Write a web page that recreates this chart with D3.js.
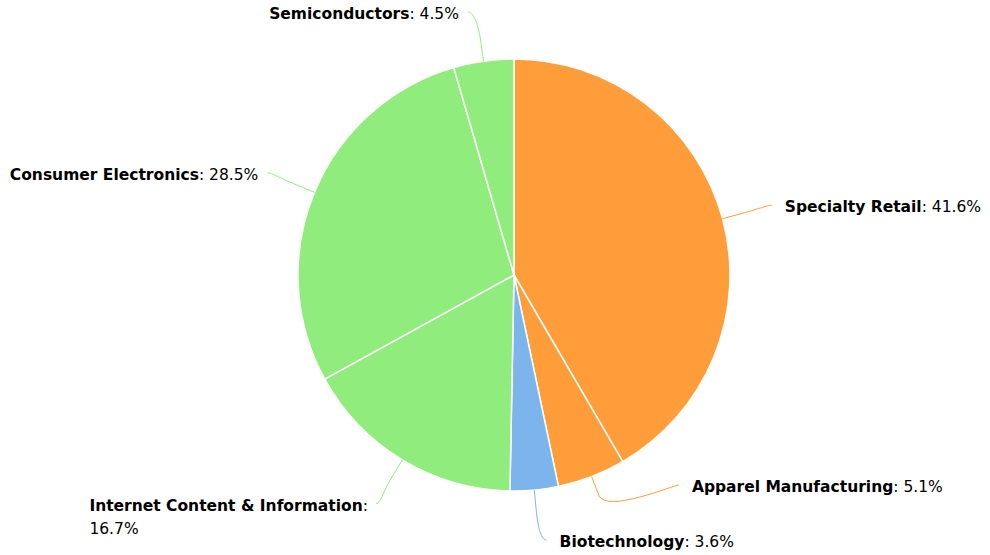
<!DOCTYPE html>
<html><head><meta charset="utf-8">
<script src="https://cdn.jsdelivr.net/npm/d3@7/dist/d3.min.js"></script>
<style>body{margin:0;background:#fff}svg{display:block}</style>
</head><body>
<svg id="c" width="990" height="555"></svg>
<script>
const categories = ["Specialty Retail","Apparel Manufacturing","Biotechnology","Internet Content & Information","Consumer Electronics","Semiconductors"];
const values = [41.6, 5.1, 3.6, 16.7, 28.5, 4.5];
const sliceColors = ["#FF9D3A","#FF9D3A","#7CB5EC","#90ED7D","#90ED7D","#90ED7D"];

const W = 990, H = 555;
const cx = 514, cy = 275, r = 216;
const labelDist = 51, breakDist = 20, minGap = 55, maxLabelW = 300;
const fontFam = "'DejaVu Sans', Verdana, sans-serif";
const fontSize = 15.5;

const svg = d3.select("#c");
const pie = d3.pie().sort(null).value(d => d)(values);
const arc = d3.arc().innerRadius(0).outerRadius(r);
const pt = (a, R) => [cx + R * Math.sin(a), cy - R * Math.cos(a)];

const g = svg.append("g").attr("transform", `translate(${cx},${cy})`);
g.selectAll("path").data(pie).join("path")
  .attr("d", arc)
  .attr("fill", (d, i) => sliceColors[i])
  .attr("stroke", "#fff").attr("stroke-width", 1.5).attr("stroke-linejoin", "round");

// label layout
const R = r + labelDist;
const labels = pie.map((d, i) => {
  const m = (d.startAngle + d.endAngle) / 2;
  return { i, m, side: Math.sin(m) >= 0 ? 1 : -1, y: cy - R * Math.cos(m) };
});
[1, -1].forEach(s => {
  const arr = labels.filter(l => l.side === s).sort((a, b) => a.y - b.y);
  arr.forEach(l => { l.y = Math.min(Math.max(l.y, 12), 540); });
  for (let k = arr.length - 2; k >= 0; k--) {
    if (arr[k + 1].y - arr[k].y < minGap) arr[k].y = arr[k + 1].y - minGap;
  }
});
labels.forEach(l => {
  const dy = l.y - cy;
  const dx = Math.sqrt(Math.max(0, R * R - dy * dy));
  l.x = cx + l.side * dx;
});

const lg = svg.append("g");
labels.forEach(l => {
  const t = pt(l.m, r), b = pt(l.m, r + breakDist);
  const p = `M${l.x},${l.y} C${l.x - l.side * 5},${l.y} ${2 * b[0] - t[0]},${2 * b[1] - t[1]} ${b[0]},${b[1]} L${t[0]},${t[1]}`;
  lg.append("path").attr("d", p).attr("fill", "none")
    .attr("stroke", sliceColors[l.i]).attr("stroke-width", 1);

  const txt = lg.append("text")
    .attr("font-family", fontFam).attr("font-size", fontSize).attr("fill", "#000");
  const baseY = l.y + 7;
  txt.append("tspan").attr("font-weight", "bold").text(categories[l.i]);
  txt.append("tspan").text(": " + values[l.i].toFixed(1) + "%");
  const full = txt.node().getComputedTextLength();
  if (full <= maxLabelW) {
    if (l.side > 0) txt.attr("x", l.x + 13).attr("y", baseY).attr("text-anchor", "start");
    else txt.attr("x", l.x - 9).attr("y", baseY).attr("text-anchor", "end");
  } else {
    txt.selectAll("*").remove();
    const line1 = txt.append("tspan");
    line1.append("tspan").attr("font-weight", "bold").text(categories[l.i]);
    line1.append("tspan").text(":");
    const w1 = txt.node().getComputedTextLength();
    const x0 = l.side > 0 ? l.x + 13 : l.x - 8 - w1;
    txt.attr("text-anchor", "start").attr("x", x0).attr("y", baseY);
    line1.attr("x", x0).attr("y", baseY);
    txt.append("tspan").attr("x", x0).attr("y", baseY + 23)
      .text(values[l.i].toFixed(1) + "%");
  }
});
</script>
</body></html>
